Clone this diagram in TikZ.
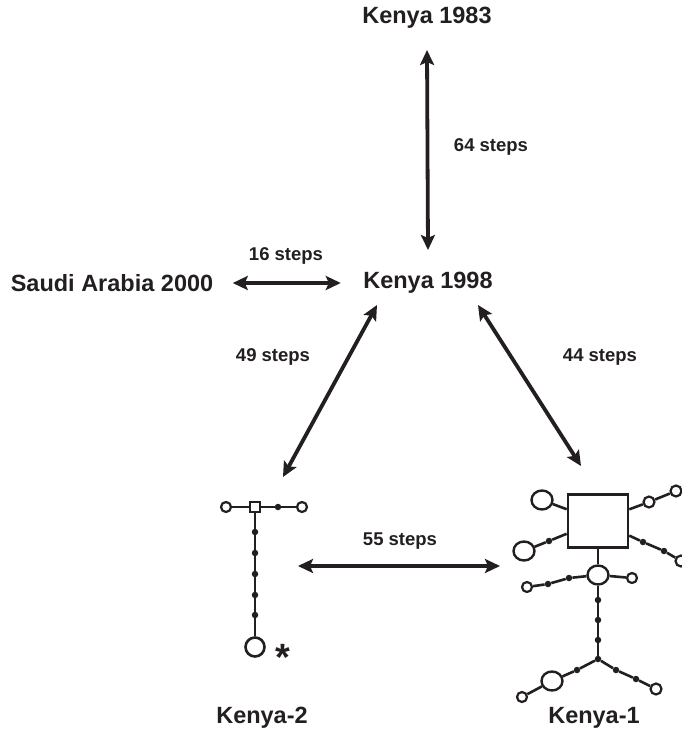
\documentclass[tikz,border=0pt]{standalone}
\usepackage{fontspec}
\setmainfont{Liberation Sans}
\usetikzlibrary{arrows.meta,shapes.geometric}
\definecolor{ink}{HTML}{231F20}
\tikzset{
  pop/.style={font=\fontsize{23.5}{27}\selectfont\bfseries, text=ink},
  lbl/.style={font=\fontsize{18.5}{22}\selectfont\bfseries, text=ink},
  link/.style={<->, >={Stealth[length=15pt,width=14pt,inset=3pt]}, line width=3.8pt, draw=ink},
  hap/.style={circle, draw=ink, line width=2.2pt, fill=white, minimum size=10pt, inner sep=0pt},
  bighap/.style={ellipse, draw=ink, line width=2.4pt, fill=white, minimum width=21pt, minimum height=19pt, inner sep=0pt},
  mv/.style={circle, fill=ink, minimum size=6.5pt, inner sep=0pt},
  hub/.style={rectangle, draw=ink, line width=2.2pt, fill=white, inner sep=0pt},
  net/.style={draw=ink, line width=2.6pt}
}
\begin{document}
\begin{tikzpicture}[x=1pt,y=-1pt]
    \useasboundingbox (0,0) rectangle (682,742);
    \node[pop] (k83)  at (427,18)  {Kenya 1983};
    \node[pop] (k98)  at (428,283) {Kenya 1998};
    \node[pop] (sa00) at (112,283) {Saudi Arabia 2000};
    \node[pop] (k2)   at (262,718) {Kenya-2};
    \node[pop] (k1)   at (594,718) {Kenya-1};

    \node[hub, minimum size=10pt] (k2hub) at (255,507) {};
    \node[hap] (k2a) at (226,507) {};
    \node[mv]  (k2b) at (278,507) {};
    \node[hap] (k2c) at (302,507) {};
    \foreach \i/\y in {1/532,2/553,3/574,4/595,5/615}
        \node[mv] (k2v\i) at (255,\y) {};
    \node[hap, minimum size=19pt, line width=2.6pt] (k2root) at (255,647) {};
    \node[font=\fontsize{38}{40}\selectfont\bfseries, text=ink, anchor=base] (star) at (283,670) {*};
    \draw[net] (k2a) -- (k2hub) -- (k2b) -- (k2c);
    \draw[net] (k2hub) -- (k2v1) -- (k2v2) -- (k2v3) -- (k2v4) -- (k2v5) -- (k2root);

    \node[hub, minimum width=60pt, minimum height=53pt, line width=2.6pt] (k1hub) at (598,521) {};
    \node[bighap] (k1ul) at (542,500) {};
    \node[mv]     (k1d1) at (549,541) {};
    \node[bighap] (k1ll) at (524,551) {};
    \node[hap, minimum size=11pt] (k1u1) at (649,502) {};
    \node[hap, minimum size=11pt] (k1u2) at (676,491) {};
    \node[mv]     (k1r1) at (643,542) {};
    \node[mv]     (k1r2) at (664,551) {};
    \node[hap, minimum size=11pt] (k1r3) at (681,561) {};
    \node[bighap] (k1mid) at (598,575) {};
    \node[mv]     (k1m1) at (569,578) {};
    \node[mv]     (k1m2) at (548,584) {};
    \node[hap]    (k1m3) at (527,587) {};
    \node[hap]    (k1m4) at (632,578) {};
    \foreach \i/\y in {1/600,2/620,3/640,4/659}
        \node[mv] (k1v\i) at (598,\y) {};
    \node[mv]     (k1a1) at (577,670) {};
    \node[bighap] (k1a2) at (552,681) {};
    \node[hap]    (k1a3) at (522,697) {};
    \node[mv]     (k1b1) at (616,670) {};
    \node[mv]     (k1b2) at (636,679) {};
    \node[hap, minimum size=11pt] (k1b3) at (656,689) {};
    \draw[net] (k1hub) -- (k1ul);
    \draw[net] (k1hub) -- (k1d1) -- (k1ll);
    \draw[net] (k1hub) -- (k1u1) -- (k1u2);
    \draw[net] (k1hub) -- (k1r1) -- (k1r2) -- (k1r3);
    \draw[net] (k1hub) -- (k1mid) -- (k1v1) -- (k1v2) -- (k1v3) -- (k1v4);
    \draw[net] (k1mid) -- (k1m1) -- (k1m2) -- (k1m3);
    \draw[net] (k1mid) -- (k1m4);
    \draw[net] (k1v4) -- (k1a1) -- (k1a2) -- (k1a3);
    \draw[net] (k1v4) -- (k1b1) -- (k1b2) -- (k1b3);

    \draw[link] ([yshift=-32pt]k83.center) -- ([yshift=33pt]k98.center);
    \draw[link] ([xshift=16pt]sa00.east) -- ([xshift=-19pt]k98.west);
    \draw[link] ([shift={(-51,22)}]k98.center) -- ([shift={(28,-30)}]k2hub.center);
    \draw[link] ([shift={(50,22)}]k98.center) -- ([shift={(-17,-55)}]k1hub.center);
    \draw[link] ([shift={(43,59)}]k2hub.center) -- ([shift={(-98,45)}]k1hub.center);

    \node[lbl] at (491,147) {64 steps};
    \node[lbl] at (286,256) {16 steps};
    \node[lbl] at (273,357) {49 steps};
    \node[lbl] at (600,357) {44 steps};
    \node[lbl] at (400,541) {55 steps};
\end{tikzpicture}
\end{document}
